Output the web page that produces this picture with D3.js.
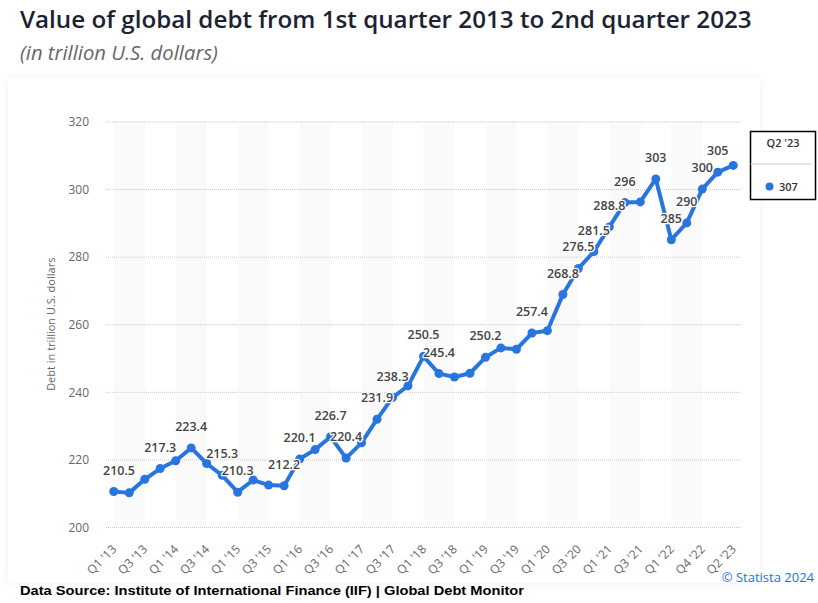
<!DOCTYPE html>
<html>
<head>
<meta charset="utf-8">
<script src="https://cdn.jsdelivr.net/npm/d3@7"></script>
<style>
  body { margin: 0; background: #fff; }
  svg { display: block; font-family: "Open Sans", "Liberation Sans", sans-serif; }
</style>
</head>
<body>
<div id="graphicContainer"></div>
<script>

const categories = [
  "Q1 '13", "Q2 '13", "Q3 '13", "Q4 '13",
  "Q1 '14", "Q2 '14", "Q3 '14", "Q4 '14",
  "Q1 '15", "Q2 '15", "Q3 '15", "Q4 '15",
  "Q1 '16", "Q2 '16", "Q3 '16", "Q4 '16",
  "Q1 '17", "Q2 '17", "Q3 '17", "Q4 '17",
  "Q1 '18", "Q2 '18", "Q3 '18", "Q4 '18",
  "Q1 '19", "Q2 '19", "Q3 '19", "Q4 '19",
  "Q1 '20", "Q2 '20", "Q3 '20", "Q4 '20",
  "Q1 '21", "Q2 '21", "Q3 '21", "Q4 '21",
  "Q1 '22", "Q3 '22", "Q4 '22",
  "Q1 '23", "Q2 '23"
]

const values = [
  210.5, 210.1, 214.1, 217.3,
  219.6, 223.4, 218.8, 215.3,
  210.3, 213.9, 212.4, 212.2,
  220.1, 222.9, 226.7, 220.4,
  224.9, 231.9, 238.3, 241.8,
  250.5, 245.4, 244.4, 245.5,
  250.2, 253.0, 252.6, 257.4,
  258.1, 268.8, 276.5, 281.5,
  288.8, 296, 296.2, 303,
  285, 290, 300,
  305, 307
]

// points whose value label is visible in the original (others hidden by overlap)
const labelled = [0, 3, 5, 7, 8, 11, 12, 14, 15, 17, 18, 20, 21, 24, 27, 29, 30, 31, 32, 33, 35, 36, 37, 38, 39]

const yTicks = [200, 220, 240, 260, 280, 300, 320]

const tickLabels = categories.filter((d, i) => i % 2 == 0)

const title = "Value of global debt from 1st quarter 2013 to 2nd quarter 2023"
const subtitle = "(in trillion U.S. dollars)"
const yAxisLabel = "Debt in trillion U.S. dollars"
const source = "Data Source: Institute of International Finance (IIF) | Global Debt Monitor"
const credit = "\u00A9 Statista 2024"

const width = 818
const height = 603
const lineColor = "#2876dd"

const plot = { left: 106, right: 741, top: 121.5, bottom: 527 }

const svg = d3.select("#graphicContainer")
  .append("svg")
  .attr("width", width)
  .attr("height", height)

const defs = svg.append("defs")

const shadow = defs.append("filter")
  .attr("id", "cardShadow")
  .attr("x", "-5%").attr("y", "-5%")
  .attr("width", "110%").attr("height", "110%")

shadow.append("feDropShadow")
  .attr("dx", 0)
  .attr("dy", 0)
  .attr("stdDeviation", 4)
  .attr("flood-color", "#000")
  .attr("flood-opacity", 0.06)

// chart card
svg.append("rect")
  .attr("x", 8)
  .attr("y", 78)
  .attr("width", 752)
  .attr("height", 505)
  .attr("rx", 5)
  .attr("fill", "#fff")
  .attr("filter", "url(#cardShadow)")

// title + subtitle, sized to the original's text widths
const titleText = svg.append("text")
  .attr("x", 20)
  .attr("y", 28)
  .attr("fill", "#1b2333")
  .style("font-size", "21px")
  .style("font-weight", 600)
  .text(title)

let tw = titleText.node().getComputedTextLength()
titleText.style("font-size", (21 * 732 / tw) + "px")

const subText = svg.append("text")
  .attr("x", 20)
  .attr("y", 60)
  .attr("fill", "#666")
  .style("font-size", "17px")
  .style("font-style", "italic")
  .text(subtitle)

let sw = subText.node().getComputedTextLength()
subText.style("font-size", (17 * 198 / sw) + "px")

const x = d3.scalePoint()
  .domain(categories)
  .range([plot.left, plot.right])
  .padding(0.5)

const y = d3.scaleLinear()
  .domain([200, 320])
  .range([plot.bottom, plot.top])

const features = svg.append("g")
  .attr("id", "features")

// alternating bands between x ticks
const bands = []
for (let i = 0; i + 1 < tickLabels.length; i += 2) {
  bands.push([tickLabels[i], tickLabels[i + 1]])
}

features.append("g")
  .selectAll("rect")
  .data(bands)
  .enter()
  .append("rect")
  .attr("x", (d) => x(d[0]))
  .attr("y", plot.top)
  .attr("width", (d) => x(d[1]) - x(d[0]))
  .attr("height", plot.bottom - plot.top)
  .attr("fill", "#fafafa")

const yAxis = d3.axisLeft(y)
  .tickValues(yTicks)
  .tickSize(-(plot.right - plot.left))
  .tickPadding(17)

features.append("g")
  .attr("class", "y")
  .attr("transform", "translate(" + plot.left + ",0)")
  .call(yAxis)

features.selectAll(".y path").remove()

features.selectAll(".y .tick line")
  .style("stroke", "#c8c8c8")
  .style("stroke-dasharray", "1 1")

features.selectAll(".y .tick text")
  .attr("fill", "#666")
  .attr("dy", "0.36em")
  .style("font-size", "12px")
  .style("font-family", "'Open Sans', sans-serif")

const xAxis = d3.axisBottom(x)
  .tickValues(tickLabels)
  .tickSize(0)

features.append("g")
  .attr("class", "x")
  .attr("transform", "translate(0," + plot.bottom + ")")
  .call(xAxis)

features.selectAll(".x path").remove()

features.selectAll(".x .tick text")
  .attr("text-anchor", "end")
  .attr("fill", "#666")
  .attr("x", 3)
  .attr("y", 23)
  .attr("dy", 0)
  .attr("transform", "rotate(-45 3 23)")
  .style("font-size", "12px")
  .style("font-family", "'Open Sans', sans-serif")

svg.append("text")
  .attr("transform", "translate(55," + ((plot.top + plot.bottom) / 2) + ") rotate(-90)")
  .attr("text-anchor", "middle")
  .attr("fill", "#666")
  .style("font-size", "11px")
  .text(yAxisLabel)

const points = categories.map((c, i) => ({ cat: c, value: values[i], i: i }))

const line = d3.line()
  .x((d) => x(d.cat))
  .y((d) => y(d.value))

features.append("path")
  .datum(points)
  .attr("d", line)
  .attr("fill", "none")
  .attr("stroke", lineColor)
  .attr("stroke-width", 4)
  .attr("stroke-linejoin", "round")

features.append("g")
  .selectAll("circle")
  .data(points)
  .enter()
  .append("circle")
  .attr("cx", (d) => x(d.cat))
  .attr("cy", (d) => y(d.value))
  .attr("r", 4.5)
  .attr("fill", lineColor)

// value labels with white halo
const labelG = features.append("g")

labelG.selectAll("text")
  .data(points.filter((d) => labelled.includes(d.i)))
  .enter()
  .append("text")
  .attr("x", (d) => x(d.cat))
  .attr("y", (d) => y(d.value) - 17)
  .attr("text-anchor", "middle")
  .attr("fill", "#444")
  .attr("stroke", "#fff")
  .attr("stroke-width", 2.5)
  .attr("stroke-linejoin", "round")
  .attr("paint-order", "stroke")
  .style("font-size", "12.5px")
  .style("font-weight", 600)
  .text((d) => String(d.value))
  .each(function (d) {
    // keep labels inside the plot, like a justified label
    const w = this.getComputedTextLength()
    const cx = x(d.cat)
    if (cx - w / 2 < plot.left - 3) {
      d3.select(this).attr("x", plot.left - 3 + w / 2)
    }
  })

// tooltip on the last point
const last = points[points.length - 1]
const tip = svg.append("g")
  .attr("transform", "translate(750.5,131.5)")

tip.append("rect")
  .attr("width", 65)
  .attr("height", 68)
  .attr("fill", "#fff")
  .attr("stroke", "#000")
  .attr("stroke-width", 1.5)

tip.append("text")
  .attr("x", 32.5)
  .attr("y", 15)
  .attr("text-anchor", "middle")
  .attr("fill", "#333")
  .style("font-size", "11px")
  .style("font-weight", 600)
  .text(last.cat)

tip.append("line")
  .attr("x1", 0)
  .attr("x2", 61)
  .attr("y1", 32.5)
  .attr("y2", 32.5)
  .attr("stroke", "#ccc")

tip.append("circle")
  .attr("cx", 19)
  .attr("cy", 55)
  .attr("r", 4)
  .attr("fill", lineColor)

tip.append("text")
  .attr("x", 28.5)
  .attr("y", 59.5)
  .attr("fill", "#333")
  .style("font-size", "11px")
  .style("font-weight", 600)
  .text(String(last.value))

// footer
svg.append("text")
  .attr("x", 20)
  .attr("y", 595)
  .attr("fill", "#000")
  .attr("textLength", 504)
  .attr("lengthAdjust", "spacingAndGlyphs")
  .style("font-family", "'Liberation Sans', Arial, sans-serif")
  .style("font-size", "13.5px")
  .style("font-weight", 700)
  .text(source)

svg.append("text")
  .attr("x", 814)
  .attr("y", 582)
  .attr("text-anchor", "end")
  .attr("fill", "#1a73e8")
  .style("font-size", "13px")
  .text(credit)

</script>
</body>
</html>
